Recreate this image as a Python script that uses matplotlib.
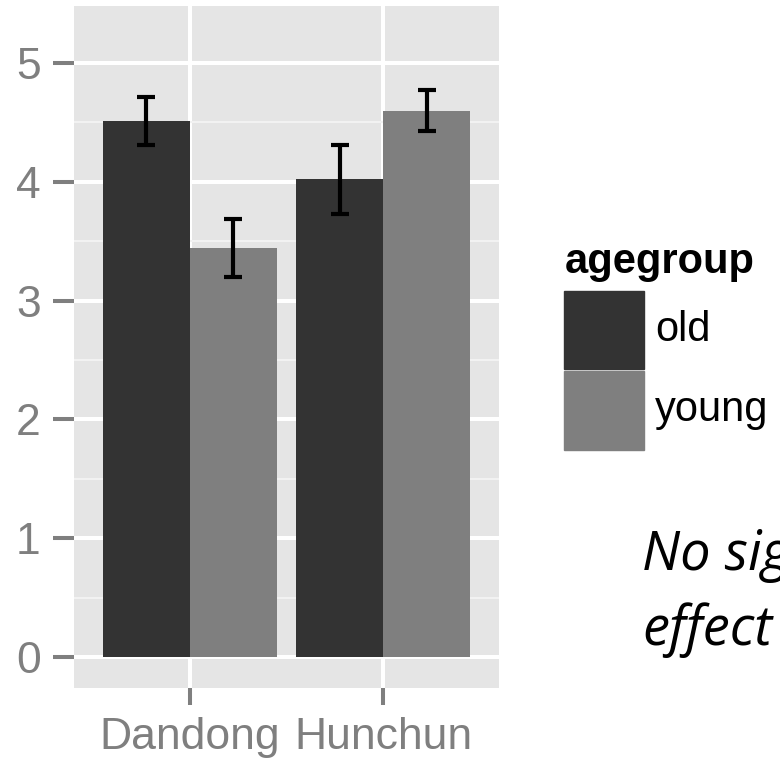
import matplotlib
matplotlib.use("Agg")
import matplotlib.pyplot as plt
from matplotlib.patches import Rectangle
import numpy as np

plt.rcParams["font.family"] = ["Liberation Sans", "DejaVu Sans"]

# data
cities = ["Dandong", "Hunchun"]
groups = ["old", "young"]
group_colors = ["#333333", "#7F7F7F"]
means_old = [4.51, 4.02]
means_young = [3.44, 4.60]
err_old = [0.20, 0.29]
err_young = [0.245, 0.175]
y_ticks = [0, 1, 2, 3, 4, 5]
note_lines = ["No significant", "effect"]

W, H = 780, 761
fig = plt.figure(figsize=(W / 100, H / 100), dpi=100)


def px(x0, y0, x1, y1):
    # pixel box (top-left origin) -> figure fraction rect
    return [x0 / W, 1 - y1 / H, (x1 - x0) / W, (y1 - y0) / H]


ax = fig.add_axes(px(74, 6, 499, 688))
ax.set_facecolor("#E5E5E5")
for s in ax.spines.values():
    s.set_visible(False)

x = np.arange(1, len(cities) + 1)
bw = 0.45
series = [(means_old, err_old), (means_young, err_young)]
for i, (vals, errs) in enumerate(series):
    pos = x + (i - 0.5) * bw
    ax.bar(pos, vals, width=bw, color=group_colors[i], zorder=3)
    ax.errorbar(pos, vals, yerr=errs, fmt="none", ecolor="black",
                elinewidth=3.0, capsize=6.8, capthick=3.0, zorder=4)

ax.set_xlim(0.4, 2.6)
ax.set_ylim(-0.26, 5.48)
ax.set_xticks(x)
ax.set_xticklabels(cities)
ax.set_yticks(y_ticks)
ax.set_yticks(np.arange(0.5, 5.5, 1.0), minor=True)
ax.grid(which="major", color="white", linewidth=2.9, zorder=0)
ax.grid(which="minor", axis="y", color="#F2F2F2", linewidth=1.5, zorder=0)
ax.set_axisbelow(True)
ax.tick_params(which="major", colors="#7F7F7F", labelsize=32, width=2.9)
ax.tick_params(axis="y", which="major", length=15, pad=9)
ax.tick_params(axis="x", which="major", length=12, pad=9)
ax.tick_params(which="minor", length=0)
for lab in ax.get_xticklabels() + ax.get_yticklabels():
    lab.set_color("#7F7F7F")

# legend
fig.text(565 / W, 1 - 262 / H, "agegroup", fontsize=30, fontweight="bold",
         va="center", ha="left", color="black")
key_y = [(291, 369), (371, 450)]
for i, (y0, y1) in enumerate(key_y):
    fig.add_artist(Rectangle((564 / W, 1 - y1 / H), 80 / W, (y1 - y0) / H,
                             transform=fig.transFigure, color=group_colors[i]))
    fig.text(655 / W, 1 - (y0 + y1) / 2 / H, groups[i], fontsize=30,
             va="center", ha="left", color="black")

# note on the right, running off the edge as in the reference
for line, base in zip(note_lines, [570, 645]):
    fig.text(642 / W, 1 - base / H, line, fontsize=39, style="italic",
             family=["Open Sans", "DejaVu Sans"], va="baseline", ha="left",
             color="black")

fig.savefig("out.png", dpi=100)
